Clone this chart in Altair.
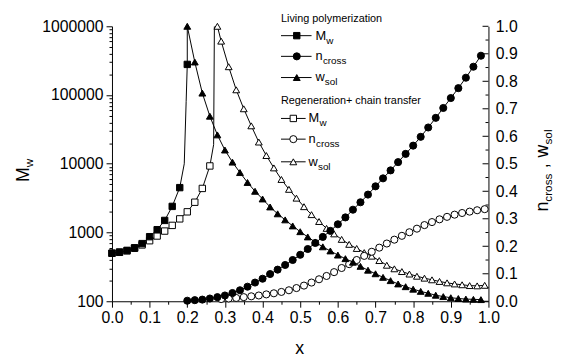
import altair as alt
import pandas as pd

FONT = "Liberation Sans"
OX, OY = 113.5, 24.0      # page position of plot origin
W, H = 382, 279

# ---------------- data ----------------
# Living polymerization
x_live_mw = [0.00, 0.02, 0.04, 0.06, 0.08, 0.10, 0.12, 0.14, 0.16, 0.18, 0.20]
mw_live = [500, 520, 550, 600, 690, 870, 1100, 1500, 2400, 4500, 279000]
x_live_mw_tail = [0.192, 0.197, 0.200]
mw_live_tail = [10000, 80000, 1000000]

x_live = [0.20, 0.22, 0.24, 0.26, 0.28, 0.30, 0.32, 0.34, 0.36, 0.38,
          0.40, 0.42, 0.44, 0.46, 0.48, 0.50, 0.52, 0.54, 0.56, 0.58,
          0.60, 0.62, 0.64, 0.66, 0.68, 0.70, 0.72, 0.74, 0.76, 0.78,
          0.80, 0.82, 0.84, 0.86, 0.88, 0.90, 0.92, 0.94, 0.96, 0.98]
n_live = [0.002, 0.004, 0.006, 0.010, 0.015, 0.021, 0.030, 0.040, 0.053, 0.068,
          0.082, 0.099, 0.115, 0.132, 0.150, 0.169, 0.190, 0.212, 0.234, 0.256,
          0.280, 0.305, 0.333, 0.360, 0.388, 0.418, 0.447, 0.476, 0.506, 0.536,
          0.566, 0.598, 0.632, 0.667, 0.703, 0.739, 0.775, 0.813, 0.853, 0.893]
w_live = [1.000, 0.870, 0.757, 0.673, 0.605, 0.550, 0.506, 0.468, 0.432, 0.400,
          0.372, 0.343, 0.318, 0.296, 0.274, 0.253, 0.234, 0.215, 0.198, 0.183,
          0.168, 0.155, 0.142, 0.127, 0.113, 0.100, 0.087, 0.075, 0.063, 0.053,
          0.044, 0.036, 0.029, 0.022, 0.017, 0.013, 0.010, 0.008, 0.007, 0.006]

# Regeneration + chain transfer
x_regen_mw = [0.00, 0.02, 0.04, 0.06, 0.08, 0.10, 0.12, 0.14, 0.16, 0.18, 0.20, 0.22, 0.24, 0.26]
mw_regen = [500, 515, 540, 590, 660, 760, 890, 1050, 1270, 1580, 2000, 2760, 4380, 9300]
x_regen_mw_tail = [0.270, 0.272]
mw_regen_tail = [19000, 1000000]

x_regen = [0.29, 0.31, 0.33, 0.35, 0.37, 0.39, 0.41, 0.43, 0.45, 0.47,
           0.49, 0.51, 0.53, 0.55, 0.57, 0.59, 0.61, 0.63, 0.65, 0.67,
           0.69, 0.71, 0.73, 0.75, 0.77, 0.79, 0.81, 0.83, 0.85, 0.87,
           0.89, 0.91, 0.93, 0.95, 0.97, 0.99]
n_regen = [0.008, 0.010, 0.012, 0.015, 0.018, 0.021, 0.025, 0.029, 0.034, 0.040,
           0.048, 0.057, 0.068, 0.080, 0.092, 0.106, 0.121, 0.135, 0.150, 0.165,
           0.180, 0.195, 0.210, 0.224, 0.238, 0.251, 0.264, 0.277, 0.288, 0.298,
           0.307, 0.315, 0.321, 0.326, 0.331, 0.335]
x_regen_gel = [0.28]
w_regen_gel = [1.000]
w_regen = [0.946, 0.853, 0.769, 0.700, 0.638, 0.579, 0.530, 0.485, 0.443, 0.407,
           0.375, 0.344, 0.315, 0.290, 0.265, 0.245, 0.225, 0.207, 0.192, 0.177,
           0.164, 0.148, 0.131, 0.118, 0.108, 0.099, 0.091, 0.084, 0.078, 0.072,
           0.067, 0.063, 0.060, 0.057, 0.056, 0.058]

x_ticks = [0.00, 0.05, 0.10, 0.15, 0.20, 0.25, 0.30, 0.35, 0.40, 0.45, 0.50,
           0.55, 0.60, 0.65, 0.70, 0.75, 0.80, 0.85, 0.90, 0.95, 1.00]
right_major = [0.0, 0.1, 0.2, 0.3, 0.4, 0.5, 0.6, 0.7, 0.8, 0.9, 1.0]
right_minor = [0.05, 0.15, 0.25, 0.35, 0.45, 0.55, 0.65, 0.75, 0.85, 0.95]
left_ticks = [100, 200, 300, 400, 500, 600, 700, 800, 900,
              1000, 2000, 3000, 4000, 5000, 6000, 7000, 8000, 9000,
              10000, 20000, 30000, 40000, 50000, 60000, 70000, 80000, 90000,
              100000, 200000, 300000, 400000, 500000, 600000, 700000, 800000, 900000,
              1000000]

# ---------------- tables ----------------
def path(xs, vs, xt, vt, s):
    d = pd.DataFrame({"x": xs + xt, "v": vs + vt})
    d = d.sort_values(["x", "v"]).reset_index(drop=True)
    d["o"] = range(len(d))
    d["s"] = s
    return d

mw_paths = pd.concat([path(x_live_mw, mw_live, x_live_mw_tail, mw_live_tail, "live"),
                      path(x_regen_mw, mw_regen, x_regen_mw_tail, mw_regen_tail, "regen")])

def frac(xs, ws, s):
    return pd.DataFrame({"x": xs, "w": ws, "s": s})

frac_lines = pd.concat([frac(x_live, n_live, "nl"), frac(x_live, w_live, "wl"),
                        frac(x_regen, n_regen, "nr"),
                        frac(x_regen_gel + x_regen, w_regen_gel + w_regen, "wr")])

# ---------------- scales / axes ----------------
major_lin = "abs(datum.value*10 - round(datum.value*10)) < 0.001"
major_log = "abs(log(datum.value)/LN10 - round(log(datum.value)/LN10)) < 0.001"

common_axis = dict(grid=False, title=None, labelFont=FONT, labelFontSize=16,
                   labelColor="black", tickColor="black", domainColor="black",
                   tickWidth=1, domainWidth=1, labelOverlap=False, labelFlush=False)

x_axis = alt.Axis(values=x_ticks, format=".1f",
                  labelExpr=f"{major_lin} ? datum.label : ''",
                  tickSize={"condition": {"test": major_lin, "value": 6}, "value": 3},
                  labelPadding=3, **common_axis)
left_axis = alt.Axis(orient="left", values=left_ticks, format="d",
                     labelExpr=f"{major_log} ? datum.label : ''",
                     tickSize={"condition": {"test": major_log, "value": 6}, "value": 3},
                     labelPadding=3, **common_axis)
# right axis: ticks point into the plot, drawn as rules below
right_axis = alt.Axis(orient="right", values=right_major, format=".1f",
                      ticks=False, labelPadding=7, **common_axis)

X = alt.X("x:Q", scale=alt.Scale(domain=[0, 1], nice=False, zero=False), axis=x_axis)
YL = alt.Y("v:Q", scale=alt.Scale(type="log", domain=[100, 1000000], nice=False), axis=left_axis)
YR = alt.Y("w:Q", scale=alt.Scale(domain=[0, 1], nice=False, zero=False), axis=right_axis)

def pts(df, shape, filled, size):
    return alt.Chart(df).mark_point(shape=shape, size=size, filled=True,
                                    fill="black" if filled else "white",
                                    stroke="black", strokeWidth=1, opacity=1)

SQ, CI, TR = 42, 52, 48

left = alt.layer(
    alt.Chart(mw_paths).mark_line(color="black", strokeWidth=1, clip=True)
        .encode(x=X, y=YL, detail="s:N", order="o:Q"),
    pts(pd.DataFrame({"x": x_regen_mw, "v": mw_regen}), "square", False, SQ).encode(x=X, y=YL),
    pts(pd.DataFrame({"x": x_live_mw, "v": mw_live}), "square", True, SQ).encode(x=X, y=YL),
)

# ---------------- legend & titles (annotation marks) ----------------
one = pd.DataFrame({"a": [0]})

def txt(t, px, py, size, align="left", baseline="middle", angle=0):
    kw = dict(align=align, baseline=baseline, font=FONT, fontSize=size, color="black")
    if angle:
        kw["angle"] = angle
    return alt.Chart(one).mark_text(**kw).encode(
        x=alt.value(px - OX), y=alt.value(py - OY), text=alt.value(t))

def seg(px1, px2, py):
    return alt.Chart(one).mark_rule(color="black", strokeWidth=1).encode(
        x=alt.value(px1 - OX), x2=alt.value(px2 - OX), y=alt.value(py - OY))

def sym(shape, filled, px, py, size):
    return alt.Chart(one).mark_point(shape=shape, size=size, filled=True,
                                     fill="black" if filled else "white",
                                     stroke="black", strokeWidth=1, opacity=1).encode(
        x=alt.value(px - OX), y=alt.value(py - OY))

def entry(shape, filled, main, sub, py, x1, x2, xm, xt, size):
    wmain = {"M": 11, "n": 7.5, "w": 9.5}[main]
    return [seg(x1, x2, py), sym(shape, filled, xm, py, size),
            txt(main, xt, py + 4, 13, baseline="alphabetic"),
            txt(sub, xt + wmain, py + 8, 10, baseline="alphabetic")]

def ticks_in(values, length):
    return alt.Chart(pd.DataFrame({"w": values})).mark_rule(color="black", strokeWidth=1).encode(
        y=YR, x=alt.value(W - length), x2=alt.value(W))

legend = [txt("Living polymerization", 285, 16.5, 11)]
legend += entry("square", True, "M", "w", 33.5, 285, 316, 301, 320, SQ)
legend += entry("circle", True, "n", "cross", 54.5, 285, 316, 301, 320, CI)
legend += entry("triangle-up", True, "w", "sol", 76, 285, 316, 301, 320, TR)
legend += [txt("Regeneration+ chain transfer", 285, 100, 11)]
legend += entry("square", False, "M", "w", 117.5, 285, 310, 297.5, 313, SQ)
legend += entry("circle", False, "n", "cross", 138.5, 285, 310, 297.5, 313, CI)
legend += entry("triangle-up", False, "w", "sol", 161.5, 285, 310, 297.5, 313, TR)

titles = [
    txt("x", 304, 352, 18, align="center"),
    txt("M", 29, 182, 18, baseline="alphabetic", angle=270),
    txt("w", 33, 167, 12, baseline="alphabetic", angle=270),
    txt("n", 556, 212, 18, baseline="alphabetic", angle=270),
    txt("cross", 560, 202, 12, baseline="alphabetic", angle=270),
    txt(",", 556, 168, 18, baseline="alphabetic", angle=270),
    txt("w", 556, 157, 18, baseline="alphabetic", angle=270),
    txt("sol", 560, 144, 12, baseline="alphabetic", angle=270),
]

right = alt.layer(
    ticks_in(right_major, 6),
    ticks_in(right_minor, 3),
    alt.Chart(frac_lines).mark_line(color="black", strokeWidth=1, clip=False)
        .encode(x=X, y=YR, detail="s:N", order="x:Q"),
    pts(pd.DataFrame({"x": x_regen_gel + x_regen, "w": w_regen_gel + w_regen}), "triangle-up", False, TR).encode(x=X, y=YR),
    pts(pd.DataFrame({"x": x_regen, "w": n_regen}), "circle", False, CI).encode(x=X, y=YR),
    pts(pd.DataFrame({"x": x_live, "w": w_live}), "triangle-up", True, TR).encode(x=X, y=YR),
    pts(pd.DataFrame({"x": x_live, "w": n_live}), "circle", True, CI).encode(x=X, y=YR),
    *legend, *titles,
)

chart = alt.layer(left, right).resolve_scale(y="independent").properties(
    width=W, height=H,
    autosize=alt.AutoSizeParams(type="none"),
    padding={"left": OX - 8, "top": OY - 8, "right": 562 - 8 - (OX - 8) - W, "bottom": 358 - 8 - (OY - 8) - H},
    background="white",
).configure_view(stroke=None)

chart.save("out.html", embed_options={"renderer": "svg", "actions": False})
